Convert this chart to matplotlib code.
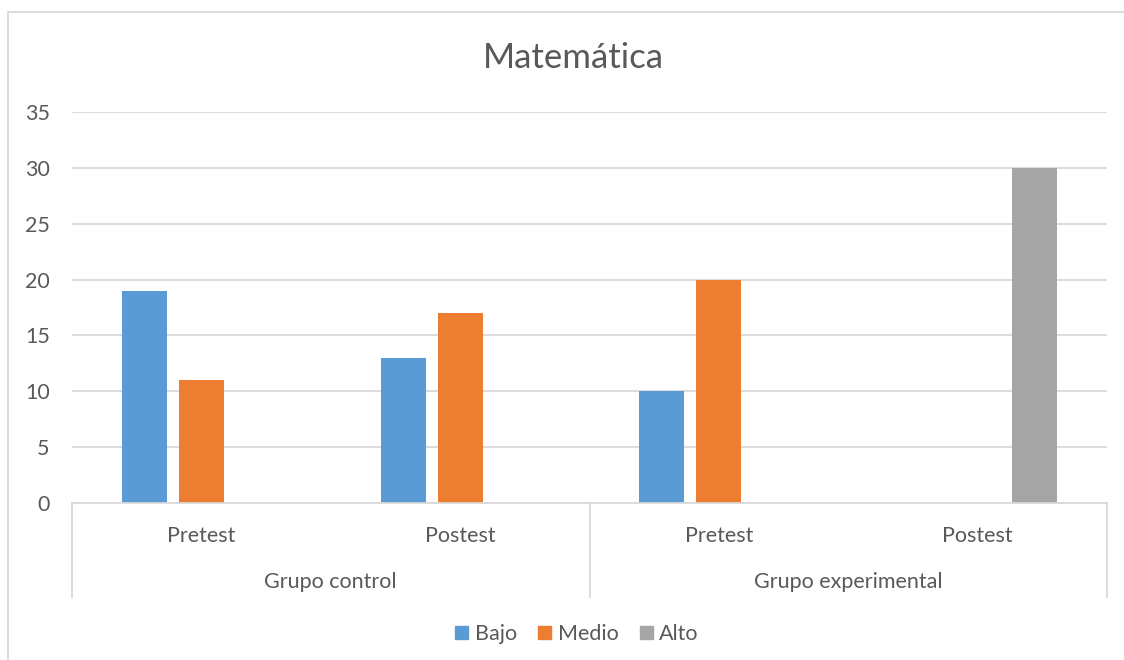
import matplotlib
matplotlib.use("Agg")
import matplotlib.pyplot as plt
from matplotlib.patches import Rectangle
from matplotlib.lines import Line2D
import numpy as np

plt.rcParams['font.family'] = ['Lato', 'DejaVu Sans']

title = "Matemática"
groups = ["Grupo control", "Grupo experimental"]
phases = ["Pretest", "Postest", "Pretest", "Postest"]
series = ["Bajo", "Medio", "Alto"]
bajo = [19, 13, 10, 0]
medio = [11, 17, 20, 0]
alto = [0, 0, 0, 30]
colors = ["#5B9BD5", "#ED7D31", "#A5A5A5"]
yticks = [0, 5, 10, 15, 20, 25, 30, 35]

W, H = 1124, 660
fig = plt.figure(figsize=(W/100, H/100), dpi=100)
x0, x1, ytop, ybot = 72, 1107, 112, 503
ax = fig.add_axes([x0/W, 1 - ybot/H, (x1-x0)/W, (ybot-ytop)/H])

n = len(phases)
x = np.arange(n)
bw = 45/258.75
step = 57/258.75
for i, (vals, c, name) in enumerate(zip([bajo, medio, alto], colors, series)):
    ax.bar(x + (i-1)*step, vals, width=bw, color=c, label=name, zorder=3)

ax.set_xlim(-0.5, n-0.5)
ax.set_ylim(0, 35)
ax.set_yticks(yticks)
ax.set_yticklabels([str(v) for v in yticks], fontsize=15.5, color="#595959")
ax.yaxis.grid(True, color="#D9D9D9", linewidth=1.3, zorder=0)
ax.tick_params(axis='y', length=0, pad=16)
ax.tick_params(axis='x', length=0)
ax.set_xticks([])
for s in ["top", "right", "left"]:
    ax.spines[s].set_visible(False)
ax.spines["bottom"].set_color("#D9D9D9")
ax.spines["bottom"].set_linewidth(1.3)
ax.spines["bottom"].set_zorder(4)

# multi-level category axis
trans = ax.get_xaxis_transform()
ph_y = -(536-503)/(ybot-ytop)
gr_y = -(582-503)/(ybot-ytop)
for i, p in enumerate(phases):
    ax.text(i, ph_y, p, transform=trans, ha='center', va='center', fontsize=15.5, color="#595959")
for g, name in enumerate(groups):
    ax.text(g*2 + 0.5, gr_y, name, transform=trans, ha='center', va='center', fontsize=15.5, color="#595959")
ybot_ax = -(597-503)/(ybot-ytop)
for xv in [-0.5, 1.5, 3.5]:
    ax.add_line(Line2D([xv, xv], [0, ybot_ax], transform=trans, color="#D9D9D9", linewidth=1.3, clip_on=False))

fig.text(573/W, 1 - 58/H, title, ha='center', va='center', fontsize=25, color="#595959")

# chart border
fig.add_artist(Rectangle((8/W, -0.05), 1.1, 1 - 12/H + 0.05, transform=fig.transFigure,
                         fill=False, edgecolor="#D9D9D9", linewidth=1.3))

handles = [Rectangle((0, 0), 1, 1, color=c) for c in colors]
fig.legend(handles, series, loc='center', bbox_to_anchor=(577/W, 1 - 634/H), ncol=3, frameon=False,
           fontsize=15.5, labelcolor="#595959", handlelength=0.6, handleheight=0.6,
           handletextpad=0.3, columnspacing=1.0)

fig.savefig("out.png", dpi=100)
